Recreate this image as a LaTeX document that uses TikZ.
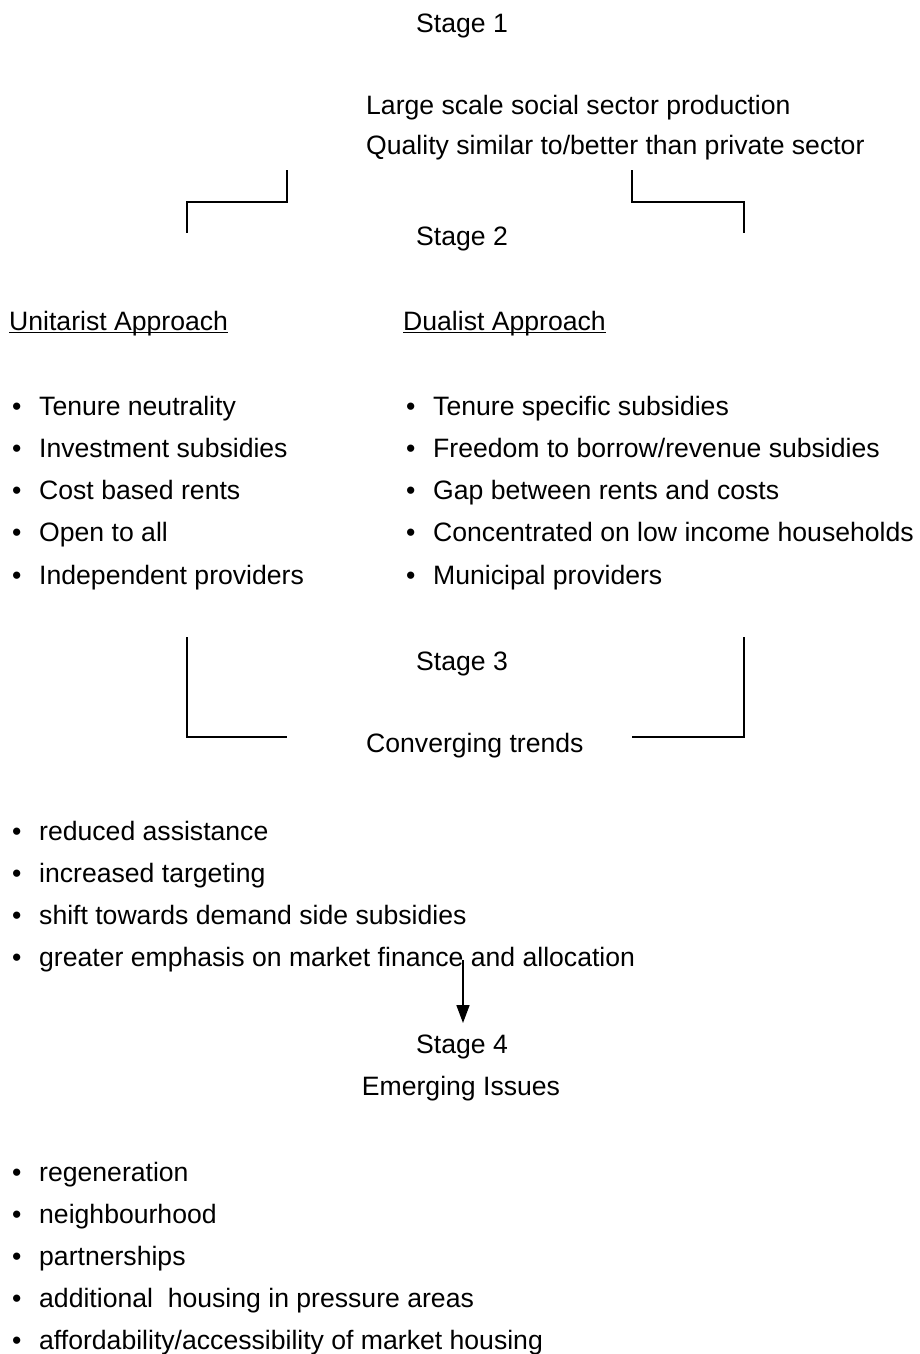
\documentclass[tikz,border=0pt]{standalone}
\usepackage{fontspec}
\setmainfont{Liberation Sans}
\usetikzlibrary{arrows.meta}
\tikzset{
  txt/.style={anchor=base west, inner sep=0pt, font=\fontsize{26.6}{30}\selectfont},
  ctr/.style={txt, anchor=base},
  bracket/.style={line width=2.8pt, line join=miter, line cap=butt},
  uline/.style={line width=1.4pt},
  arr/.style={line width=1.6pt, -{Triangle[length=18pt, width=13pt]}}
}
\begin{document}
\begin{tikzpicture}[x=1pt, y=-1pt]
  \useasboundingbox (0,0) rectangle (919,1354);
  % --- stage 1 ---
  \node[ctr] (s1) at (462,33) {Stage 1};
  \node[txt] (lg) at (366,114) {Large scale social sector production};
  \node[txt] (ql) at (366,154) {Quality similar to/better than private sector};
  % --- brackets down to stage 2 ---
  \coordinate (l1) at (287,170);
  \coordinate (l2) at (187,233);
  \coordinate (r1) at (632,170);
  \coordinate (r2) at (744,233);
  \draw[bracket] (l1) -- ++(0,32) -| (l2);
  \draw[bracket] (r1) -- ++(0,32) -| (r2);
  % --- stage 2 ---
  \node[ctr] (s2) at (462,245) {Stage 2};
  \node[txt] (ua) at (9,330) {Unitarist Approach};
  \node[txt] (da) at (403,330) {Dualist Approach};
  \draw[uline] ([yshift=-2.5pt]ua.base west) -- ([yshift=-2.5pt]ua.base east);
  \draw[uline] ([yshift=-2.5pt]da.base west) -- ([yshift=-2.5pt]da.base east);
  \foreach \t [count=\i] in {Tenure neutrality, Investment subsidies,
      Cost based rents, Open to all, Independent providers} {
    \node[txt] (ub\i) at (12,{415+(\i-1)*42.3}) {•};
    \node[txt] (u\i) at (39,{415+(\i-1)*42.3}) {\t};
  }
  \foreach \t [count=\i] in {Tenure specific subsidies,
      Freedom to borrow/revenue subsidies, Gap between rents and costs,
      Concentrated on low income households, Municipal providers} {
    \node[txt] (db\i) at (406,{415+(\i-1)*42.3}) {•};
    \node[txt] (d\i) at (433,{415+(\i-1)*42.3}) {\t};
  }
  % --- brackets into stage 3 ---
  \coordinate (l3) at (187,637);
  \coordinate (l4) at (287,737);
  \coordinate (r3) at (744,637);
  \coordinate (r4) at (632,737);
  \draw[bracket] (l3) |- (l4);
  \draw[bracket] (r3) |- (r4);
  % --- stage 3 ---
  \node[ctr] (s3) at (462,670) {Stage 3};
  \node[txt] (ct) at (366,752) {Converging trends};
  \foreach \t [count=\i] in {reduced assistance, increased targeting,
      shift towards demand side subsidies,
      greater emphasis on market finance and allocation} {
    \node[txt] (cb\i) at (12,{840+(\i-1)*42}) {•};
    \node[txt] (c\i) at (39,{840+(\i-1)*42}) {\t};
  }
  % --- stage 4 ---
  \coordinate (a1) at (463,960);
  \coordinate (a2) at (463,1023);
  \draw[arr] (a1) -- (a2);
  \node[ctr] (s4) at (462,1053) {Stage 4};
  \node[ctr] (ei) at (461,1095) {Emerging Issues};
  \foreach \t [count=\i] in {regeneration, neighbourhood, partnerships,
      additional~ housing in pressure areas,
      affordability/accessibility of market housing} {
    \node[txt] (eb\i) at (12,{1181+(\i-1)*42.2}) {•};
    \node[txt] (e\i) at (39,{1181+(\i-1)*42.2}) {\t};
  }
\end{tikzpicture}
\end{document}
